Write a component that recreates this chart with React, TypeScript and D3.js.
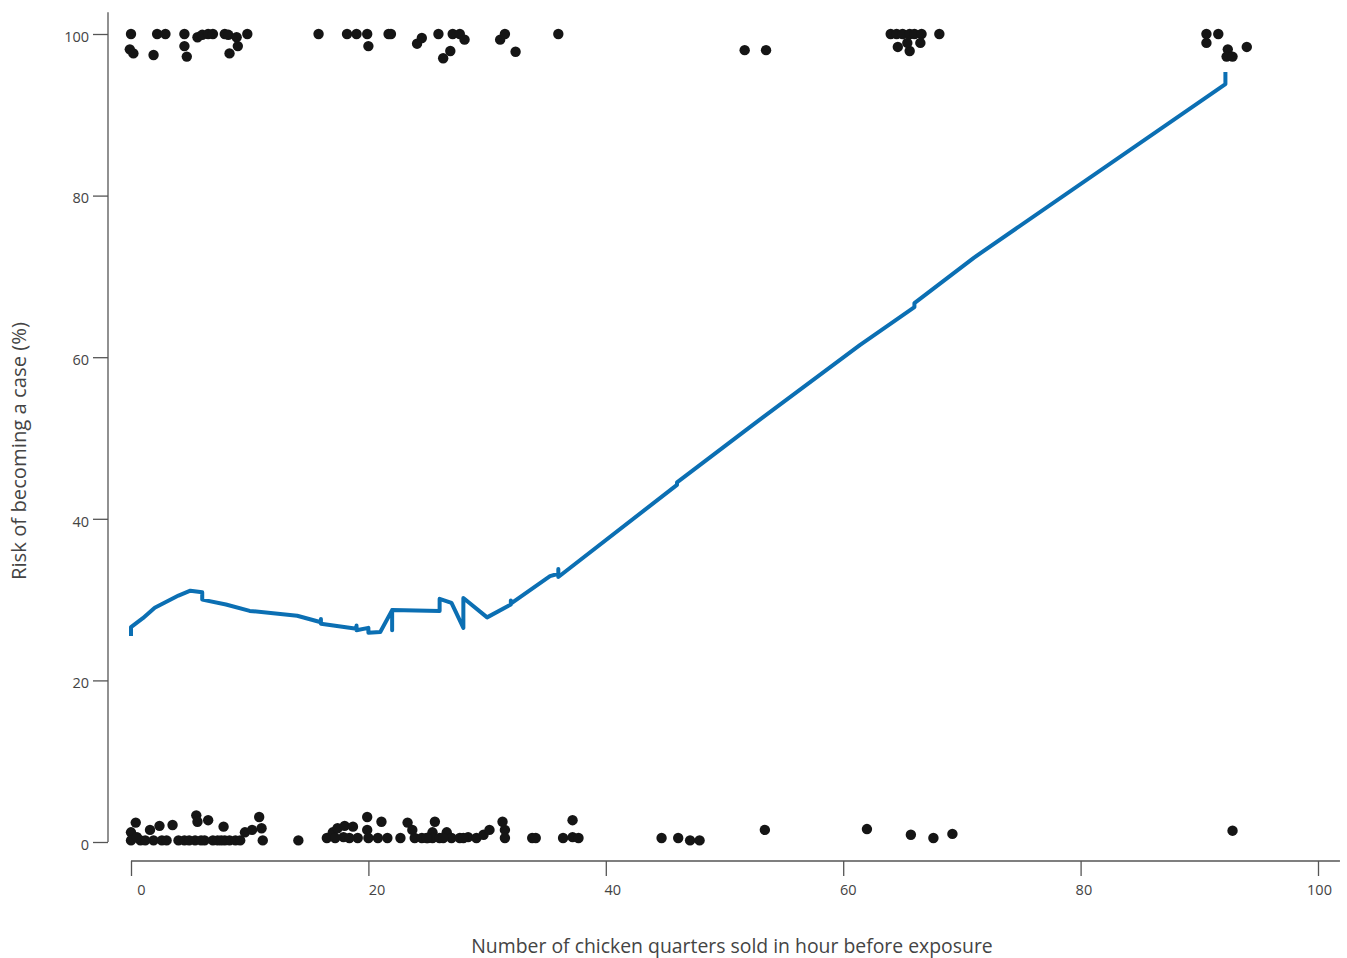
import React, { useRef, useEffect } from "react";
import * as d3 from "d3";

// scatter points (jittered outcome, 0 = not a case, 100 = case)
const caseX = [
  0.0, -0.1, 0.2, 1.9, 2.2, 2.9, 4.5, 4.5, 4.7, 5.6, 6.0, 6.5, 6.9, 7.9, 8.2, 8.9, 9.0, 8.3, 9.8,
  15.8, 18.2, 19.0, 19.9, 20.0, 21.7, 21.9, 24.1, 24.5, 25.9, 27.1, 27.7, 28.1, 26.9, 26.3, 31.1,
  31.5, 32.4, 36.0, 51.7, 53.5, 64.0, 64.5, 65.0, 65.6, 66.0, 66.6, 64.6, 65.6, 65.4, 66.5, 68.1,
  90.6, 91.6, 90.6, 92.4, 92.3, 92.8, 94.0,
];
const caseY = [
  100, 98.1, 97.6, 97.4, 100, 100, 100, 98.5, 97.2, 99.6, 99.9, 100, 100, 100, 99.9, 99.6, 98.5, 97.6, 100,
  100, 100, 100, 100, 98.5, 100, 100, 98.8, 99.5, 100, 100, 100, 99.3, 97.9, 97.0, 99.3,
  100, 97.8, 100, 98.0, 98.0, 100, 100, 100, 100, 100, 100, 98.4, 97.9, 98.9, 98.9, 100,
  100, 100, 98.9, 98.1, 97.2, 97.2, 98.4,
];
const nonCaseX = [
  0.0, 0.4, 0.0, 0.8, 1.6, 1.9, 2.4, 2.6, 3.5, 4.0, 4.5, 5.4, 5.5, 5.6, 6.2, 6.5, 6.9, 7.3, 7.8,
  7.9, 8.3, 8.8, 9.2, 9.6, 10.2, 10.8, 11.0, 11.1, 1.2, 3.0, 4.9, 5.9, 7.6, 0.5,
  14.1, 16.5, 17.0, 17.4, 17.9, 18.0, 18.7, 19.1, 19.9, 19.9, 20.0, 20.8, 21.1, 21.6, 22.7, 23.3,
  23.7, 23.9, 24.5, 25.4, 25.6, 25.4, 26.0, 26.6, 27.0, 27.7, 28.4, 29.1, 29.7, 30.2, 31.3, 31.5,
  31.5, 33.8, 34.1, 36.4, 37.2, 37.2, 37.7, 17.2, 18.4, 25.0, 26.3, 28.0, 24.9,
  44.7, 46.1, 47.1, 47.9, 53.4, 62.0, 65.7, 67.6, 69.2, 92.8,
];
const nonCaseY = [
  1.2, 2.4, 0.2, 0.2, 1.5, 0.2, 2.0, 0.2, 2.1, 0.2, 0.2, 0.2, 3.3, 2.5, 0.2, 2.7, 0.2, 0.2, 1.9,
  0.2, 0.2, 0.2, 0.2, 1.2, 1.5, 3.1, 1.7, 0.2, 0.2, 0.2, 0.2, 0.2, 0.2, 0.6,
  0.2, 0.5, 1.2, 1.7, 0.6, 2.0, 1.9, 0.5, 3.1, 1.5, 0.5, 0.5, 2.5, 0.5, 0.5, 2.4,
  1.5, 0.5, 0.5, 1.2, 2.5, 0.5, 0.5, 1.2, 0.5, 0.5, 0.6, 0.5, 0.9, 1.5, 2.5, 1.5,
  0.5, 0.5, 0.5, 0.5, 2.7, 0.6, 0.5, 0.5, 0.5, 0.5, 0.5, 0.5, 0.5,
  0.5, 0.5, 0.2, 0.2, 1.5, 1.6, 0.9, 0.5, 1.0, 1.4,
];

// smoothed risk line (duplicated x values give the small vertical steps)
const lineX = [
  0, 0, 1, 2, 4, 5, 6, 6, 8, 10, 14, 16, 16, 16, 19, 19, 19, 20, 20, 21, 22, 22, 22, 26, 26, 27,
  28, 28, 30, 32, 32, 32, 35.3, 36, 36, 36, 46, 46, 52, 61.4, 66, 66, 71, 92.2, 92.2,
];
const lineY = [
  25.5, 26.6, 27.7, 29.0, 30.5, 31.1, 30.9, 30.0, 29.4, 28.6, 28.0, 27.2, 27.6, 27.0, 26.4, 26.8,
  26.2, 26.5, 25.9, 26.0, 28.7, 26.2, 28.7, 28.6, 30.1, 29.6, 26.5, 30.2, 27.8, 29.4, 29.9, 29.5,
  32.9, 33.2, 33.8, 32.8, 44.2, 44.5, 51.2, 61.5, 66.2, 66.7, 72.3, 93.8, 95.3,
];

const xTicks = [0, 20, 40, 60, 80, 100];
const yTicks = [0, 20, 40, 60, 80, 100];

const W = 1347;
const H = 958;
const font = "'Open Sans', 'DejaVu Sans', sans-serif";

const App = () => {
  const svgRef = useRef<SVGSVGElement>(null);

  useEffect(() => {
    const svg = d3.select(svgRef.current);
    svg.selectAll("*").remove();

    const x = d3.scaleLinear().domain([0, 100]).range([131, 1318]);
    const y = d3.scaleLinear().domain([0, 100]).range([842, 34]);
    const xAxisY = 861;
    const yAxisX = 108;

    // y axis (offset to the left)
    const gy = svg.append("g").attr("transform", `translate(${yAxisX},0)`);
    gy.call(d3.axisLeft(y).tickValues(yTicks).tickSize(15).tickPadding(4).tickFormat(d3.format("d")));
    gy.select(".domain").attr("d", `M0,${y(102.7)}V${y(0)}`);
    gy.selectAll("line").attr("stroke", "#555").attr("stroke-width", 1.3);
    gy.select(".domain").attr("stroke", "#555").attr("stroke-width", 1.3);
    gy.selectAll("text")
      .attr("font-family", font)
      .attr("font-size", 14.5)
      .attr("fill", "#444")
      .attr("dy", "0.5em");

    // x axis (offset below)
    const gx = svg.append("g").attr("transform", `translate(0,${xAxisY})`);
    gx.call(d3.axisBottom(x).tickValues(xTicks).tickSize(15).tickPadding(9).tickFormat(d3.format("d")));
    gx.select(".domain").attr("d", `M${x(0)},0H${x(101.85)}`);
    gx.selectAll("line").attr("stroke", "#555").attr("stroke-width", 1.3);
    gx.select(".domain").attr("stroke", "#555").attr("stroke-width", 1.3);
    gx.selectAll("text")
      .attr("font-family", font)
      .attr("font-size", 14.5)
      .attr("fill", "#444")
      .attr("dx", (d: any) => 10 - d * 0.09);

    // axis titles
    svg
      .append("text")
      .attr("x", 732)
      .attr("y", 953)
      .attr("text-anchor", "middle")
      .attr("font-family", font)
      .attr("font-size", 19.4)
      .attr("fill", "#444")
      .text("Number of chicken quarters sold in hour before exposure");

    svg
      .append("text")
      .attr("transform", "translate(26,451) rotate(-90)")
      .attr("text-anchor", "middle")
      .attr("font-family", font)
      .attr("font-size", 19.4)
      .attr("fill", "#444")
      .attr("textLength", 258)
      .attr("lengthAdjust", "spacingAndGlyphs")
      .text("Risk of becoming a case (%)");

    // scatter
    const pts = [
      ...caseX.map((v, i) => [v, caseY[i]]),
      ...nonCaseX.map((v, i) => [v, nonCaseY[i]]),
    ];
    svg
      .append("g")
      .selectAll("circle")
      .data(pts)
      .join("circle")
      .attr("cx", (d) => x(d[0]))
      .attr("cy", (d) => y(d[1]))
      .attr("r", 5.2)
      .attr("fill", "#151515");

    // smoothed line
    const lineData = lineX.map((v, i) => [v, lineY[i]] as [number, number]);
    svg
      .append("path")
      .datum(lineData)
      .attr("fill", "none")
      .attr("stroke", "#0b6fb3")
      .attr("stroke-width", 4)
      .attr("stroke-linejoin", "round")
      .attr(
        "d",
        d3
          .line<[number, number]>()
          .x((d) => x(d[0]))
          .y((d) => y(d[1]))
      );
  }, []);

  return (
    <svg
      ref={svgRef}
      width={W}
      height={H}
      style={{ position: "absolute", left: 0, top: 0, background: "white" }}
    ></svg>
  );
};

export default App;
